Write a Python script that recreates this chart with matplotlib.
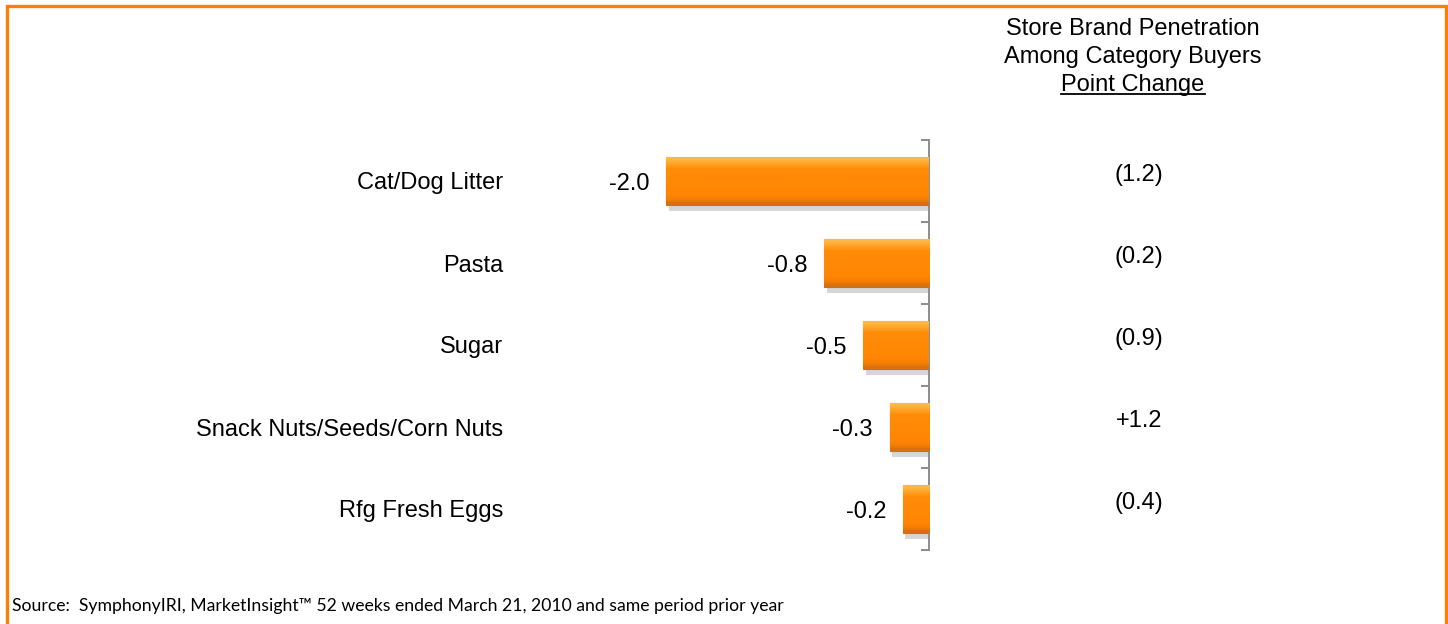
import numpy as np
import matplotlib
matplotlib.use('Agg')
import matplotlib.pyplot as plt
import matplotlib.patheffects as pe
from matplotlib.patches import Rectangle
from matplotlib.transforms import blended_transform_factory

categories = ['Cat/Dog Litter', 'Pasta', 'Sugar', 'Snack Nuts/Seeds/Corn Nuts', 'Rfg Fresh Eggs']
values = [-2.0, -0.8, -0.5, -0.3, -0.2]
point_change = ['(1.2)', '(0.2)', '(0.9)', '+1.2', '(0.4)']

W, H = 1448, 624
fig = plt.figure(figsize=(W / 100, H / 100), dpi=100)
fig.patch.set_facecolor('white')

# axes placed in pixel terms: zero line at x=929, bands from y=140 to y=550
ax = fig.add_axes([540 / W, (H - 550) / H, 389 / W, 410 / H])
XLIM = (-389 / 131.5, 0)
ax.set_xlim(*XLIM)
ax.set_ylim(4.5, -0.5)
ax.patch.set_alpha(0)

y = np.arange(len(categories))
bars = ax.barh(y, values, height=0.585, color='#FF8A0A', edgecolor='#C87414', linewidth=0.8,
               zorder=3)
for b in bars:
    b.set_path_effects([pe.SimplePatchShadow(offset=(2, -4), shadow_rgbFace='0.6', alpha=0.4),
                        pe.Normal()])

# bevelled look: vertical gradient clipped to each bar
grad = np.linspace(0, 1, 12).reshape(-1, 1)
cmap = matplotlib.colors.LinearSegmentedColormap.from_list(
    'bevel', [(0.0, '#FFB848'), (0.12, '#FFA024'), (0.22, '#FF8C08'), (0.8, '#FF8604'),
              (0.92, '#F57E02'), (1.0, '#D87010')])
for b in bars:
    x0, y0 = b.get_x(), b.get_y()
    w, h = b.get_width(), b.get_height()
    im = ax.imshow(grad, cmap=cmap, aspect='auto', interpolation='bilinear',
                   extent=(x0, x0 + w, y0 + h, y0), zorder=4)
    im.set_clip_path(b)
ax.set_xlim(*XLIM)
ax.set_ylim(4.5, -0.5)

for s in ['left', 'top', 'bottom']:
    ax.spines[s].set_visible(False)
ax.spines['right'].set_color('#8C8C8C')
ax.spines['right'].set_linewidth(1.4)
ax.xaxis.set_visible(False)
ax.yaxis.tick_right()
ax.set_yticks(np.arange(-0.5, len(categories)))
ax.tick_params(axis='y', direction='in', length=6, width=1.4, color='#8C8C8C',
               labelright=False)

lab_kw = dict(fontsize=17, family='Liberation Sans', color='black', va='center_baseline')
for yi, v in zip(y, values):
    ax.annotate(f'{v:.1f}', xy=(v, yi), xytext=(-12, 0), textcoords='offset points',
                ha='right', **lab_kw)

tr = blended_transform_factory(fig.transFigure, ax.transData)
for yi, c, p in zip(y, categories, point_change):
    ax.text(503 / W, yi, c, transform=tr, ha='right', **lab_kw)
    ax.text(1139 / W, yi - 0.1, p, transform=tr, ha='center', **lab_kw)

# column header
hdr_kw = dict(fontsize=17, family='Liberation Sans', ha='center', va='center')
fig.text(1133 / W, 1 - 29 / H, 'Store Brand Penetration', **hdr_kw)
fig.text(1133 / W, 1 - 57 / H, 'Among Category Buyers', **hdr_kw)
t = fig.text(1133 / W, 1 - 85 / H, 'Point Change', **hdr_kw)
fig.canvas.draw()
bb = t.get_window_extent().transformed(fig.transFigure.inverted())
fig.add_artist(plt.Line2D([bb.x0, bb.x1], [bb.y0 + 2 / H, bb.y0 + 2 / H], color='black', lw=1.3,
                          transform=fig.transFigure))

fig.text(12 / W, 1 - 606 / H,
         'Source:  SymphonyIRI, MarketInsight\u2122 52 weeks ended March 21, 2010 and same period prior year',
         fontsize=12.7, family='Lato', va='center', ha='left')

# orange frame
fig.add_artist(Rectangle((7 / W, -0.05), (1446 - 7) / W, 1.05 - 6 / H, fill=False,
                         edgecolor='#FF7F00', linewidth=2.4, transform=fig.transFigure))

fig.savefig('out.png', dpi=100)
